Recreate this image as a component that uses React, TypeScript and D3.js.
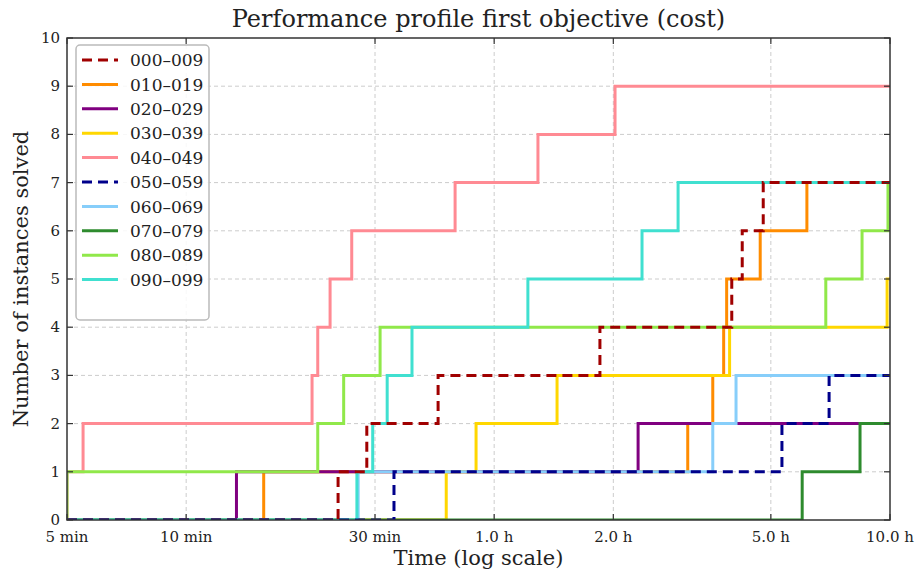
import { useEffect, useRef } from 'react';
import * as d3 from 'd3';

// solve times per instance group, in minutes (each entry = one more instance solved)
const groupNames = ['000–009', '010–019', '020–029', '030–039', '040–049', '050–059', '060–069', '070–079', '080–089', '090–099'];
const groupColors = ['#a00000', '#ff8c00', '#800080', '#ffd700', '#ff8a93', '#00008b', '#87cefa', '#2e8b2e', '#90e84a', '#40e0d0'];
const groupDashed = [true, false, false, false, false, true, false, false, false, false];

const times000 = [24.2, 28.6, 43.3, 111, 239, 254, 287];
const times010 = [15.7, 185, 214, 228, 232, 282, 370];
const times020 = [13.4, 138.6];
const times030 = [45.4, 54.0, 86.5, 236, 590];
const times040 = [5, 5.49, 20.8, 21.5, 23.1, 26.2, 47.8, 77.4, 121.2];
const times050 = [33.5, 320, 421];
const times060 = [27.2, 214, 245];
const times070 = [360, 504];
const times080 = [5, 21.5, 25.0, 30.9, 413, 510, 593];
const times090 = [27.0, 29.6, 32.2, 37.2, 73.0, 141.8, 174.9];
const allTimes = [times000, times010, times020, times030, times040, times050, times060, times070, times080, times090];

// draw order: solid lines first, dashed ones on top
const drawOrder = [1, 2, 3, 4, 6, 7, 8, 9, 0, 5];

const xTickValues = [5, 10, 30, 60, 120, 300, 600];
const xTickLabels = ['5 min', '10 min', '30 min', '1.0 h', '2.0 h', '5.0 h', '10.0 h'];
const yTickValues = [0, 1, 2, 3, 4, 5, 6, 7, 8, 9, 10];

const W = 917;
const H = 573;

export default function App() {
  const svgRef = useRef<SVGSVGElement>(null);

  useEffect(() => {
    if (!svgRef.current) return;
    const root = d3.select(svgRef.current);
    root.selectAll('*').remove();

    const margin = { top: 38, right: 27, bottom: 53, left: 67 };
    const innerWidth = W - margin.left - margin.right;
    const innerHeight = H - margin.top - margin.bottom;
    const font = "'DejaVu Serif', serif";

    const x = d3.scaleLog().domain([5, 600]).range([0, innerWidth]);
    const y = d3.scaleLinear().domain([0, 10]).range([innerHeight, 0]);

    root.append('rect').attr('width', W).attr('height', H).attr('fill', '#fff');

    const g = root.append('g').attr('transform', `translate(${margin.left},${margin.top})`);

    g.append('defs').append('clipPath').attr('id', 'plot-clip')
      .append('rect').attr('width', innerWidth).attr('height', innerHeight);

    // grid
    g.append('g').selectAll('line').data(yTickValues.slice(1, -1)).join('line')
      .attr('x1', 0).attr('x2', innerWidth)
      .attr('y1', d => y(d)).attr('y2', d => y(d))
      .attr('stroke', '#cccccc').attr('stroke-width', 1).attr('stroke-dasharray', '4,3');
    g.append('g').selectAll('line').data(xTickValues.slice(1, -1)).join('line')
      .attr('x1', d => x(d)).attr('x2', d => x(d))
      .attr('y1', 0).attr('y2', innerHeight)
      .attr('stroke', '#cccccc').attr('stroke-width', 1).attr('stroke-dasharray', '4,3');

    // step lines
    const line = d3.line<[number, number]>()
      .x(d => x(d[0]))
      .y(d => y(d[1]))
      .curve(d3.curveStepAfter);

    const lines = g.append('g').attr('clip-path', 'url(#plot-clip)');
    drawOrder.forEach(i => {
      const times = allTimes[i];
      const pts: [number, number][] = [[5, 0]];
      times.forEach((t, k) => pts.push([t, k + 1]));
      pts.push([600, times.length]);
      lines.append('path')
        .attr('d', line(pts))
        .attr('fill', 'none')
        .attr('stroke', groupColors[i])
        .attr('stroke-width', 3)
        .attr('stroke-dasharray', groupDashed[i] ? '10,6' : null);
    });

    // ticks, pointing inward on all four sides
    const tickLen = 6;
    const tickG = g.append('g').attr('stroke', '#333').attr('stroke-width', 1.2);
    xTickValues.forEach(v => {
      tickG.append('line').attr('x1', x(v)).attr('x2', x(v)).attr('y1', innerHeight).attr('y2', innerHeight - tickLen);
      tickG.append('line').attr('x1', x(v)).attr('x2', x(v)).attr('y1', 0).attr('y2', tickLen);
    });
    yTickValues.forEach(v => {
      tickG.append('line').attr('x1', 0).attr('x2', tickLen).attr('y1', y(v)).attr('y2', y(v));
      tickG.append('line').attr('x1', innerWidth).attr('x2', innerWidth - tickLen).attr('y1', y(v)).attr('y2', y(v));
    });

    // frame
    g.append('rect').attr('width', innerWidth).attr('height', innerHeight)
      .attr('fill', 'none').attr('stroke', '#333').attr('stroke-width', 1.5);

    // tick labels
    g.append('g').selectAll('text').data(xTickValues).join('text')
      .attr('x', d => x(d)).attr('y', innerHeight + 22)
      .attr('text-anchor', 'middle')
      .attr('font-family', font).attr('font-size', 15).attr('fill', '#222')
      .text((_, i) => xTickLabels[i]);
    g.append('g').selectAll('text').data(yTickValues).join('text')
      .attr('x', -7).attr('y', d => y(d)).attr('dy', '0.33em')
      .attr('text-anchor', 'end')
      .attr('font-family', font).attr('font-size', 15).attr('fill', '#222')
      .text(d => String(d));

    // title and axis labels
    root.append('text')
      .attr('x', margin.left + innerWidth / 2).attr('y', 27)
      .attr('text-anchor', 'middle')
      .attr('font-family', font).attr('font-size', 24).attr('fill', '#222')
      .text('Performance profile first objective (cost)');
    root.append('text')
      .attr('x', margin.left + innerWidth / 2).attr('y', 565)
      .attr('text-anchor', 'middle')
      .attr('font-family', font).attr('font-size', 21).attr('fill', '#222')
      .text('Time (log scale)');
    root.append('text')
      .attr('transform', `translate(28,${margin.top + innerHeight / 2}) rotate(-90)`)
      .attr('text-anchor', 'middle')
      .attr('font-family', font).attr('font-size', 21).attr('fill', '#222')
      .text('Number of instances solved');

    // legend
    const legend = g.append('g').attr('transform', 'translate(9,7)');
    legend.append('rect')
      .attr('width', 133).attr('height', 275).attr('rx', 4)
      .attr('fill', 'rgba(255,255,255,0.85)').attr('stroke', '#bbbbbb').attr('stroke-width', 1.5);
    groupNames.forEach((name, i) => {
      const ly = 15 + i * 24.4;
      legend.append('line')
        .attr('x1', 6).attr('x2', 42).attr('y1', ly).attr('y2', ly)
        .attr('stroke', groupColors[i]).attr('stroke-width', 3)
        .attr('stroke-dasharray', groupDashed[i] ? '10,6' : null);
      legend.append('text')
        .attr('x', 54).attr('y', ly).attr('dy', '0.36em')
        .attr('font-family', font).attr('font-size', 17).attr('fill', '#222')
        .text(name);
    });
  }, []);

  return (
    <svg ref={svgRef} width={W} height={H} style={{ position: 'absolute', left: 0, top: 0 }} />
  );
}
